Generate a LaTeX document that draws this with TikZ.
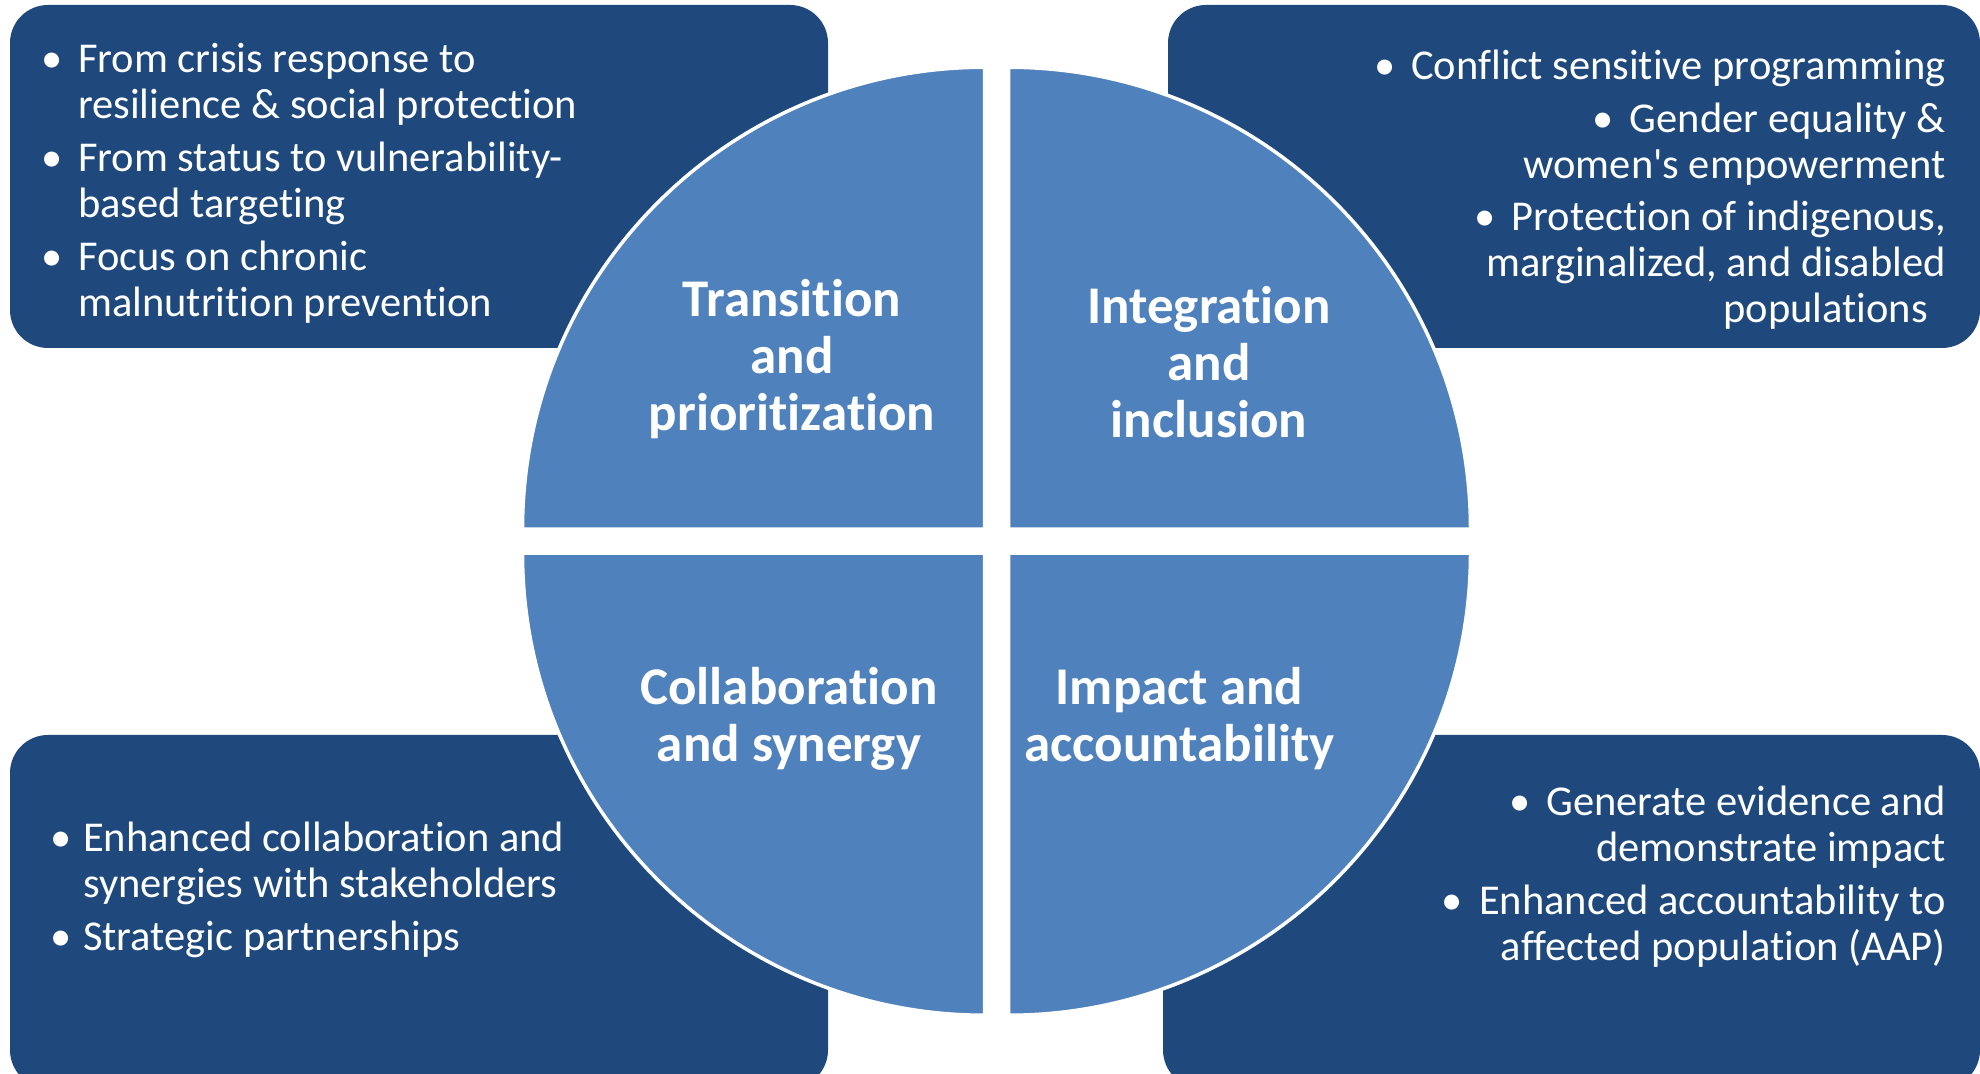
\documentclass[tikz,border=0pt]{standalone}
\usepackage{fontspec}
\setmainfont{Carlito}[RawFeature={-liga}]
\definecolor{quadc}{HTML}{4F81BD}
\definecolor{boxc}{HTML}{1F497D}
\newcommand{\bul}[1]{\makebox[#1pt][l]{\textbullet}}
\begin{document}
\begin{tikzpicture}[x=1pt,y=1pt,
  infobox/.style={fill=boxc, rounded corners=38pt},
  quadrant/.style={fill=quadc, draw=white, line width=3.5pt},
  title/.style={text=white, font=\fontsize{53}{57}\selectfont\bfseries, align=center, inner sep=0pt, anchor=base},
  ltext/.style={text=white, font=\fontsize{42.5}{46}\selectfont, align=left, inner sep=0pt, anchor=base west},
  rtext/.style={text=white, font=\fontsize{42.5}{46}\selectfont, align=right, inner sep=0pt, anchor=base east}]
\fill[white] (0,0) rectangle (1980,1073);
\useasboundingbox (0,0) rectangle (1980,1073);
% info boxes
\path[infobox] (10,725) rectangle (828,1068);
\path[infobox] (1168,725) rectangle (1980,1068);
\path[infobox] (10,-15) rectangle (828,338);
\path[infobox] (1163,-15) rectangle (1980,338);
% quadrants
\path[quadrant] (984.5,543.75) -- ++(-462,0) arc[start angle=180, end angle=90, radius=462pt] -- cycle;
\path[quadrant] (1008.5,543.75) -- ++(0,462) arc[start angle=90, end angle=0, radius=462pt] -- cycle;
\path[quadrant] (984.5,519.75) -- ++(0,-462) arc[start angle=270, end angle=180, radius=462pt] -- cycle;
\path[quadrant] (1008.5,519.75) -- ++(462,0) arc[start angle=0, end angle=-90, radius=462pt] -- cycle;
% titles (anchored at the baseline of the last line)
\node[title] (t1) at (792,642) {Transition\\and\\prioritization};
\node[title] (t2) at (1209,635) {Integration\\and\\inclusion};
\node[title] (t3) at (789,311) {Collaboration\\and synergy};
\node[title] (t4) at (1179.5,311) {Impact and\\accountability};
% bullet texts (anchored at the baseline of the last line)
\node[ltext] (tl) at (41,756) {\bul{37}From crisis response to\\\hspace*{37pt}resilience \& social protection\\[7pt]\bul{37}From status to vulnerability-\\\hspace*{37pt}based targeting\\[7pt]\bul{37}Focus on chronic\\\hspace*{37pt}malnutrition prevention};
\node[rtext] (tr) at (1946,750) {\textbullet\hspace{16pt}Conflict sensitive programming\\[7pt]\textbullet\hspace{16pt}Gender equality \&\\women\textquotesingle s empowerment\\[6pt]\textbullet\hspace{16pt}Protection of indigenous,\\marginalized, and disabled\\populations\hspace*{18pt}};
\node[ltext] (bl) at (50,122) {\bul{33}Enhanced collaboration and\\\hspace*{33pt}synergies with stakeholders\\[7pt]\bul{33}Strategic partnerships};
\node[rtext] (br) at (1946,112) {\textbullet\hspace{16pt}Generate evidence and\\demonstrate impact\\[7pt]\textbullet\hspace{16pt}Enhanced accountability to\\affected population (AAP)};
\end{tikzpicture}
\end{document}
